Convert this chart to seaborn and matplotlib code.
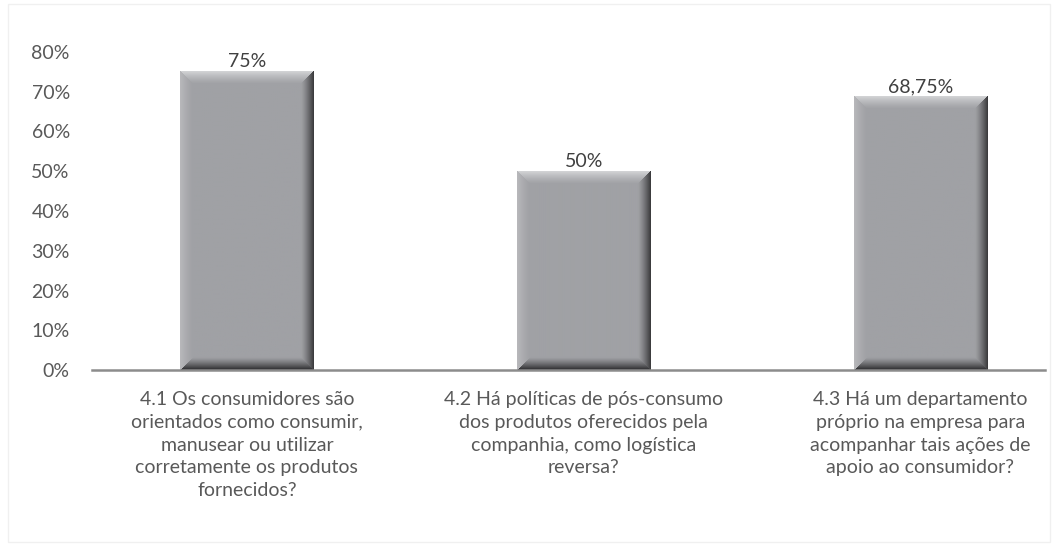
import numpy as np
import pandas as pd
import matplotlib
matplotlib.use("Agg")
import matplotlib.pyplot as plt
import seaborn as sns

categories = [
    "4.1 Os consumidores são\norientados como consumir,\nmanusear ou utilizar\ncorretamente os produtos\nfornecidos?",
    "4.2 Há políticas de pós-consumo\ndos produtos oferecidos pela\ncompanhia, como logística\nreversa?",
    "4.3 Há um departamento\npróprio na empresa para\nacompanhar tais ações de\napoio ao consumidor?",
]
values = [0.75, 0.50, 0.6875]
value_labels = ["75%", "50%", "68,75%"]
yticks = [0, 0.1, 0.2, 0.3, 0.4, 0.5, 0.6, 0.7, 0.8]
ytick_labels = ["0%", "10%", "20%", "30%", "40%", "50%", "60%", "70%", "80%"]

sns.set_theme(style="white")
plt.rcParams["font.family"] = ["Lato", "DejaVu Sans"]

W, H, DPI = 1058, 546, 100
fig = plt.figure(figsize=(W / DPI, H / DPI), dpi=DPI)
ax = fig.add_axes([92 / W, 1 - 370 / H, (1045 - 92) / W, (370 - 52) / H])

df = pd.DataFrame({"cat": categories, "val": values})
sns.barplot(data=df, x="cat", y="val", color="#a0a1a5", width=0.395,
            saturation=1, ax=ax, zorder=2)

XL = (-0.46, 2.37)
YL = (0, 0.8)
ax.set_xlim(*XL)
ax.set_ylim(*YL)

# bevel shading over each bar
base = np.array([160, 161, 165]) / 255
top_c = np.array([212, 213, 215]) / 255
bot_c = np.array([40, 40, 42]) / 255
right_c = np.array([55, 55, 57]) / 255
left_c = np.array([185, 185, 188]) / 255
px_per_x = (1045 - 92) / (XL[1] - XL[0])
px_per_y = (370 - 52) / (YL[1] - YL[0])
t = 13.0
for p in list(ax.patches):
    x0, y0 = p.get_x(), p.get_y()
    w, h = p.get_width(), p.get_height()
    pw = int(round(w * px_per_x))
    ph = int(round(h * px_per_y))
    yy, xx = np.mgrid[0:ph, 0:pw] + 0.5
    d = np.stack([xx, pw - xx, yy, ph - yy])
    idx = np.argmin(d, axis=0)
    dmin = np.min(d, axis=0)
    f = np.clip(1 - dmin / t, 0, 1) ** 1.3
    cols = np.stack([left_c, right_c, top_c, bot_c])
    img = base[None, None, :] + (cols[idx] - base[None, None, :]) * f[..., None]
    ax.imshow(img, extent=(x0, x0 + w, y0, y0 + h), aspect="auto",
              interpolation="bilinear", zorder=3, origin="upper")
    p.set_visible(False)

ax.set_xlim(*XL)
ax.set_ylim(*YL)

for i, (v, lab) in enumerate(zip(values, value_labels)):
    ax.annotate(lab, (i, v), xytext=(0, 1), textcoords="offset points",
                ha="center", va="bottom", fontsize=14, color="#404040")

ax.set_yticks(yticks)
ax.set_yticklabels(ytick_labels, fontsize=14, color="#595959")
ax.tick_params(axis="y", length=0, pad=16)
ax.tick_params(axis="x", length=0, pad=15)
ax.set_xticks(range(len(categories)))
ax.set_xticklabels(categories, fontsize=14, color="#595959", linespacing=1.42,
                   va="top")
ax.set_xlabel("")
ax.set_ylabel("")
for s in ["top", "left", "right"]:
    ax.spines[s].set_visible(False)
ax.spines["bottom"].set_color("#8c8c8c")
ax.spines["bottom"].set_linewidth(1.8)
ax.spines["bottom"].set_zorder(4)

# faint chart border
fig.patches.append(plt.Rectangle((8 / W, 4 / H), 1 - 16 / W, 1 - 8 / H,
                                 transform=fig.transFigure, fill=False,
                                 edgecolor="#f0f0f0", linewidth=1))

fig.savefig("out.png", dpi=DPI)
